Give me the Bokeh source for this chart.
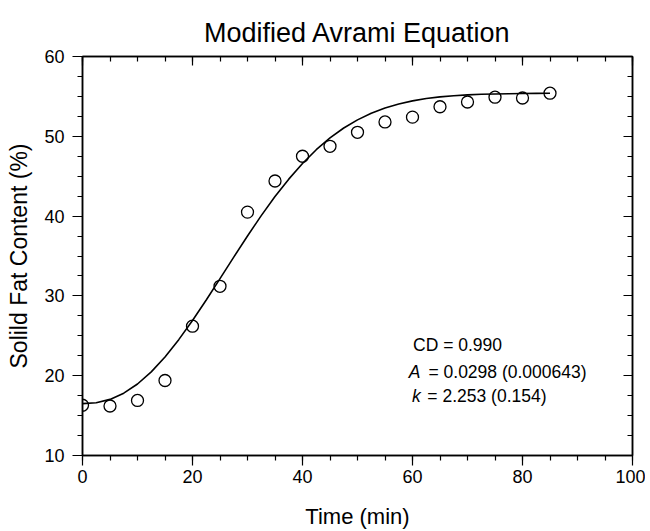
from bokeh.plotting import figure
from bokeh.models import LinearAxis, SingleIntervalTicker, Range1d, Label, CustomJSTickFormatter
from bokeh.embed import file_html
from bokeh.resources import INLINE

# Measured data (Time in min, Solid fat content in %)
time_min = [0, 5, 10, 15, 20, 25, 30, 35, 40, 45, 50, 55, 60, 65, 70, 75, 80, 85]
sfc = [16.3, 16.2, 16.9, 19.4, 26.2, 31.2, 40.5, 44.4, 47.5, 48.75, 50.5, 51.8, 52.4, 53.7, 54.3, 54.9, 54.8, 55.4]

# Fitted curve
fit_time = [0, 2.5, 5, 7.5, 10, 12.5, 15, 17.5, 20, 22.5, 25, 27.5, 30, 32.5, 35, 37.5,
            40, 42.5, 45, 47.5, 50, 52.5, 55, 57.5, 60, 62.5, 65, 67.5, 70, 72.5, 75, 77.5,
            80, 82.5, 85]
fit_sfc = [16.5, 16.61, 17.03, 17.81, 18.96, 20.48, 22.35, 24.52, 26.92, 29.49, 32.16, 34.86,
           37.51, 40.06, 42.45, 44.63, 46.59, 48.32, 49.79, 51.04, 52.06, 52.89, 53.55, 54.05,
           54.44, 54.73, 54.94, 55.09, 55.19, 55.26, 55.31, 55.34, 55.37, 55.38, 55.39]

title_text = "Modified Avrami Equation"
x_label = "Time (min)"
y_label = "Solild Fat Content (%)"
stats_cd = "CD = 0.990"
param_a_name = "A"
param_a_val = "= 0.0298 (0.000643)"
param_k_name = "k"
param_k_val = "= 2.253 (0.154)"

FONT = "Liberation Sans"

p = figure(width=645, height=531, output_backend="svg", toolbar_location=None,
           x_range=Range1d(0, 100), y_range=Range1d(10, 60),
           x_axis_location=None, y_axis_location=None,
           min_border_left=82, min_border_right=13, min_border_top=56, min_border_bottom=75)
p.grid.visible = False
p.outline_line_color = "black"
p.outline_line_width = 1.5
p.background_fill_color = "white"
p.border_fill_color = "white"

p.title.text = title_text
p.title.align = "center"
p.title.text_font = FONT
p.title.text_font_size = "27px"
p.title.text_font_style = "normal"
p.title.text_color = "black"
p.title.standoff = 18

xt = SingleIntervalTicker(interval=20, num_minor_ticks=4)
yt = SingleIntervalTicker(interval=10, num_minor_ticks=4)

def style(ax, inward=False):
    ax.axis_line_color = "black"
    ax.axis_line_width = 1.5
    ax.major_tick_line_color = "black"
    ax.minor_tick_line_color = "black"
    ax.major_tick_line_width = 1.2
    ax.minor_tick_line_width = 1.2
    if inward:
        ax.major_tick_in, ax.major_tick_out = 9, 0
        ax.minor_tick_in, ax.minor_tick_out = 5, 0
        ax.formatter = CustomJSTickFormatter(code="return '';")
        ax.major_label_text_font_size = "1px"
        ax.major_label_standoff = 0
    else:
        ax.major_tick_in, ax.major_tick_out = 0, 10
        ax.minor_tick_in, ax.minor_tick_out = 0, 5
        ax.major_label_text_font_size = "18px"
    ax.major_label_text_font = FONT
    ax.major_label_text_color = "black"
    ax.axis_label_text_font = FONT
    ax.axis_label_text_font_size = "23px"
    ax.axis_label_text_font_style = "normal"
    ax.axis_label_text_color = "black"

xb = LinearAxis(ticker=xt, axis_label=x_label)
style(xb)
xb.axis_label_text_font_size = "22px"
xb.major_label_standoff = 4
xb.axis_label_standoff = 18
p.add_layout(xb, "below")

yl = LinearAxis(ticker=yt, axis_label=y_label)
style(yl)
yl.major_label_standoff = 8
yl.axis_label_standoff = 9
p.add_layout(yl, "left")

xa = LinearAxis(ticker=xt)
style(xa, inward=True)
p.add_layout(xa, "above")

yr = LinearAxis(ticker=yt)
style(yr, inward=True)
p.add_layout(yr, "right")

p.line(fit_time, fit_sfc, line_color="black", line_width=1.6)
p.scatter(time_min, sfc, marker="circle", size=12, fill_color=None,
          line_color="black", line_width=1.3)

lab_kw = dict(text_font=FONT, text_font_size="17.5px", text_color="black",
              text_baseline="middle")
p.add_layout(Label(x=60.1, y=23.8, text=stats_cd, **lab_kw))
p.add_layout(Label(x=59.3, y=20.5, text=param_a_name, text_font_style="italic", **lab_kw))
p.add_layout(Label(x=62.9, y=20.5, text=param_a_val, **lab_kw))
p.add_layout(Label(x=59.9, y=17.4, text=param_k_name, text_font_style="italic", **lab_kw))
p.add_layout(Label(x=62.7, y=17.4, text=param_k_val, **lab_kw))

open("out.html", "w").write(file_html(p, INLINE))
